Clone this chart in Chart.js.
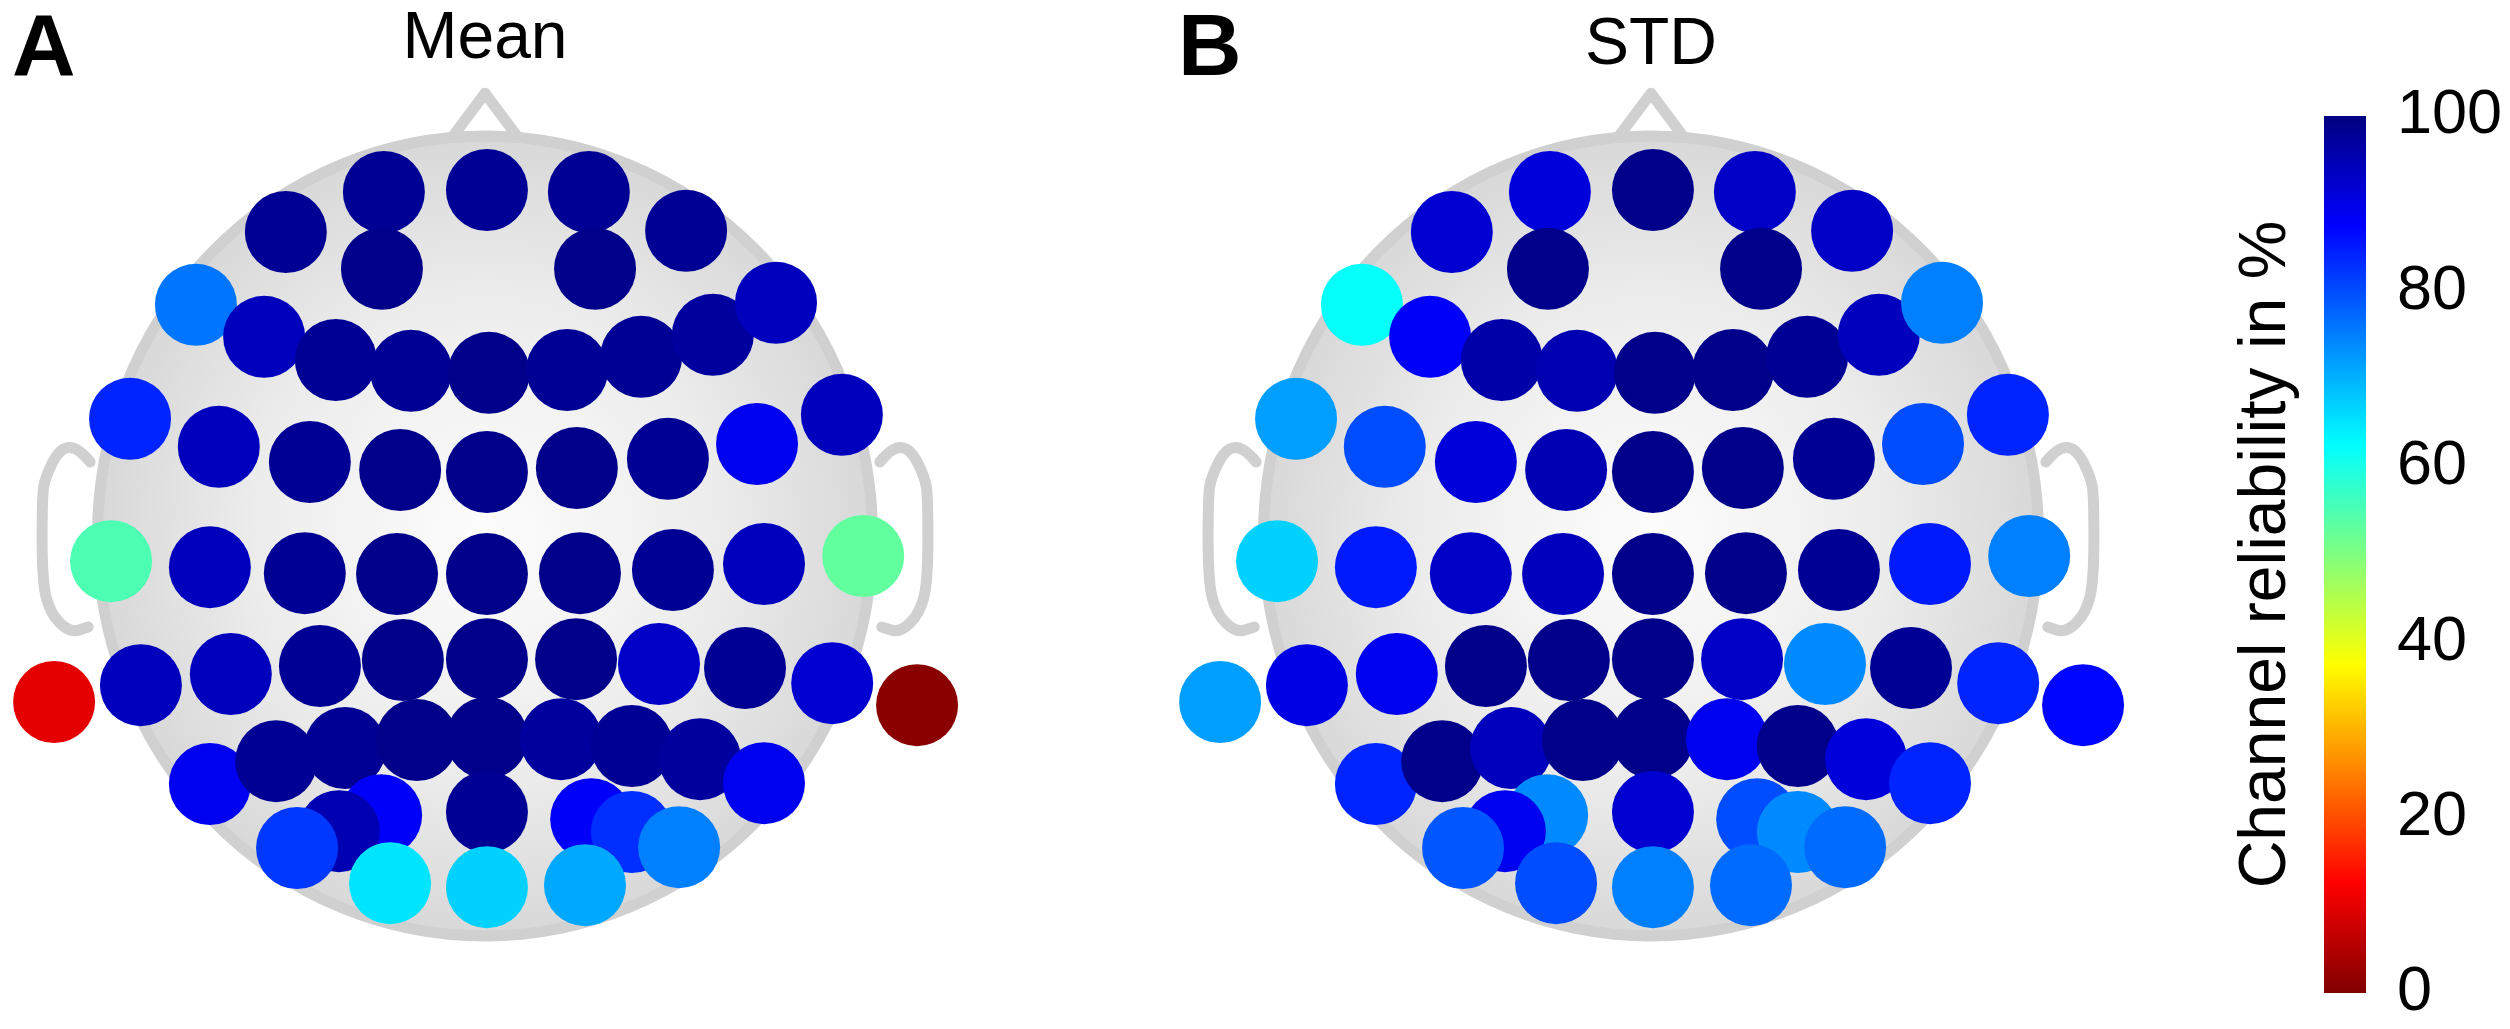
<!DOCTYPE html>
<html>
<head>
<meta charset="utf-8">
<title>Channel reliability</title>
<script src="https://cdn.jsdelivr.net/npm/chart.js@4.4.1/dist/chart.umd.min.js"></script>
<style>
  body { margin: 0; background: #fff; }
  #wrap { position: relative; width: 2510px; height: 1029px; background: #fff; overflow: hidden; }
  #wrap canvas { position: absolute; top: 0; }
</style>
</head>
<body>
<div id="wrap">
  <canvas id="meanChart" width="970" height="1029" style="left:0px"></canvas>
  <canvas id="stdChart" width="970" height="1029" style="left:1166px"></canvas>
  <canvas id="barChart" width="330" height="1029" style="left:2180px"></canvas>
</div>
<script>
// electrode positions in head units (head radius = 1), listed in drawing order
const chanX = [
  -0.261, 0.005, 0.268, -0.514, -0.266, 0.284, 0.519,
  -0.746, -0.570, -0.385, -0.191, 0.010, 0.212, 0.403, 0.588, 0.751,
  -0.916, -0.687, -0.452, -0.219, 0.005, 0.237, 0.472, 0.702, 0.921,
  -0.965, -0.710, -0.465, -0.227, 0.005, 0.245, 0.485, 0.720, 0.976,
  -1.112, -0.888, -0.656, -0.426, -0.212, 0.005, 0.235, 0.449, 0.671, 0.896, 1.115,
  -0.710, -0.539, -0.361, -0.176, 0.005, 0.196, 0.379, 0.555, 0.720,
  -0.268, -0.377, -0.485, 0.005, 0.274, 0.379, 0.501,
  -0.245, 0.005, 0.258
];
const chanY = [
  0.860, 0.865, 0.860, 0.760, 0.668, 0.668, 0.763,
  0.578, 0.498, 0.440, 0.413, 0.408, 0.415, 0.448, 0.503, 0.583,
  0.293, 0.223, 0.185, 0.165, 0.160, 0.170, 0.193, 0.230, 0.303,
  -0.063, -0.078, -0.093, -0.095, -0.095, -0.093, -0.085, -0.070, -0.050,
  -0.415, -0.373, -0.345, -0.325, -0.310, -0.308, -0.308, -0.320, -0.330, -0.368, -0.423,
  -0.620, -0.563, -0.530, -0.510, -0.505, -0.508, -0.525, -0.558, -0.618,
  -0.698, -0.738, -0.780, -0.690, -0.708, -0.740, -0.778,
  -0.868, -0.878, -0.873
];
// channel reliability in %
const meanVals = [
  98, 98, 98, 98, 99, 99, 98,
  76, 94, 98, 98, 99, 98, 98, 97, 94,
  84, 94, 98, 99, 99, 99, 98, 89, 94,
  55, 94, 98, 99, 99, 99, 98, 94, 53,
  10, 94, 94, 98, 99, 99, 99, 93, 98, 92, 1,
  89, 98, 98, 99, 99, 97, 98, 97, 89,
  88, 95, 82, 98, 88, 83, 75,
  65, 67, 71
];
const stdVals = [
  91, 99, 93, 92, 99, 99, 93,
  62, 88, 96, 95, 99, 99, 98, 94, 75,
  72, 80, 91, 95, 99, 99, 98, 80, 84,
  67, 85, 93, 94, 99, 99, 98, 85, 75,
  72, 90, 89, 99, 99, 99, 93, 74, 98, 84, 87,
  84, 99, 94, 99, 99, 89, 99, 91, 84,
  74, 89, 79, 92, 80, 74, 77,
  80, 75, 77
];
const panelTitles = ["Mean", "STD"];
const panelLetters = ["A", "B"];
const barRange = [0, 100];
const barTicks = [0, 20, 40, 60, 80, 100];
const barLabel = "Channel reliability in %";

const FONT = '"Liberation Sans", Arial, Helvetica, sans-serif';
Chart.defaults.font.family = FONT;
Chart.defaults.color = "#000";

// reversed jet: 100 -> dark blue, 0 -> dark red
const clamp = (v) => Math.max(0, Math.min(1, v));
function jet(val) {
  const t = 1 - val / 100;
  const r = clamp(1.5 - Math.abs(4 * t - 3));
  const g = clamp(1.5 - Math.abs(4 * t - 2));
  const b = clamp(1.5 - Math.abs(4 * t - 1));
  return `rgb(${Math.round(r * 255)},${Math.round(g * 255)},${Math.round(b * 255)})`;
}

// ear outline (right side, head units)
const earShape = [
  [1.019, 0.185], [1.05, 0.2225], [1.097, 0.22], [1.135, 0.1475], [1.143, 0.0975],
  [1.143, -0.11], [1.123, -0.1925], [1.071, -0.2425], [1.024, -0.2275]
];

const headPlugin = {
  id: "head",
  beforeDatasetsDraw(chart) {
    const { ctx } = chart;
    const sx = chart.scales.x, sy = chart.scales.y;
    const px = (u) => sx.getPixelForValue(u);
    const py = (v) => sy.getPixelForValue(v);
    const cx = px(0), cy = py(0);
    const rx = px(1) - cx, ry = cy - py(1);
    ctx.save();
    ctx.strokeStyle = "#d0d0d0";
    ctx.lineWidth = 11;
    ctx.lineCap = "round";
    ctx.lineJoin = "round";
    // nose
    ctx.beginPath();
    ctx.moveTo(px(-0.09), py(0.99));
    ctx.lineTo(px(0), py(1.107));
    ctx.lineTo(px(0.09), py(0.99));
    ctx.stroke();
    // ears
    [-1, 1].forEach((s) => {
      const pts = earShape.map(([u, v]) => [px(s * u), py(v)]);
      ctx.beginPath();
      ctx.moveTo(pts[0][0], pts[0][1]);
      for (let i = 1; i < pts.length - 1; i++) {
        const mx = (pts[i][0] + pts[i + 1][0]) / 2;
        const my = (pts[i][1] + pts[i + 1][1]) / 2;
        ctx.quadraticCurveTo(pts[i][0], pts[i][1], mx, my);
      }
      const last = pts[pts.length - 1];
      ctx.lineTo(last[0], last[1]);
      ctx.stroke();
    });
    // head
    ctx.save();
    ctx.translate(cx, cy);
    ctx.scale(rx / ry, 1);
    const grad = ctx.createRadialGradient(0, 0, 0, 0, 0, ry);
    grad.addColorStop(0, "#fdfdfd");
    grad.addColorStop(0.6, "#ececec");
    grad.addColorStop(1, "#d8d8d8");
    ctx.fillStyle = grad;
    ctx.beginPath();
    ctx.arc(0, 0, ry, 0, Math.PI * 2);
    ctx.fill();
    ctx.restore();
    ctx.beginPath();
    ctx.ellipse(cx, cy, rx, ry, 0, 0, Math.PI * 2);
    ctx.stroke();
    ctx.restore();
  },
  afterDraw(chart, args, opts) {
    const { ctx } = chart;
    ctx.save();
    ctx.fillStyle = "#000";
    ctx.font = "bold 88px " + FONT;
    ctx.textBaseline = "alphabetic";
    ctx.textAlign = "left";
    ctx.fillText(opts.letter, 12, 75);
    ctx.restore();
  }
};

// pixel layout of a head panel
const W = 970, H = 1029, CX = 485, CY = 536, RX = 387.5, RY = 400;
const TITLE_SIZE = 66, TITLE_BLOCK = TITLE_SIZE * 1.2 + 6;

function makeHead(id, vals, idx, padTop) {
  const colors = vals.map(jet);
  return new Chart(document.getElementById(id), {
    type: "scatter",
    data: {
      datasets: [{
        data: chanX.map((x, i) => ({ x: x, y: chanY[i] })),
        pointRadius: 41,
        pointHoverRadius: 41,
        pointBackgroundColor: colors,
        pointBorderColor: colors,
        pointBorderWidth: 0,
        clip: false
      }]
    },
    plugins: [headPlugin],
    options: {
      responsive: false,
      animation: false,
      events: [],
      layout: { padding: 0, autoPadding: false },
      scales: {
        x: { display: false, min: -CX / RX, max: (W - CX) / RX },
        y: { display: false, min: -(H - CY) / RY, max: (CY - TITLE_BLOCK) / RY }
      },
      plugins: {
        legend: { display: false },
        tooltip: { enabled: false },
        title: {
          display: true,
          text: panelTitles[idx],
          color: "#000",
          font: { size: TITLE_SIZE, weight: "normal" },
          padding: { top: padTop, bottom: 6 - padTop }
        },
        head: { letter: panelLetters[idx] }
      }
    }
  });
}

makeHead("meanChart", meanVals, 0, 0);
makeHead("stdChart", stdVals, 1, 6);

function jetGradient(chart) {
  const area = chart.chartArea;
  if (!area) return null;
  const g = chart.ctx.createLinearGradient(0, area.bottom, 0, area.top);
  [0, 12.5, 37.5, 62.5, 87.5, 100].forEach((v) => g.addColorStop(v / 100, jet(v)));
  return g;
}

// fixed axis box: width set, no extra label padding
const fixAxis = (s) => {
  s.width = 144;
  s.paddingTop = 0;
  s.paddingBottom = 0;
};

new Chart(document.getElementById("barChart"), {
  type: "bar",
  data: {
    labels: [""],
    datasets: [{
      data: [barRange],
      backgroundColor: (c) => jetGradient(c.chart),
      borderWidth: 0,
      barPercentage: 1,
      categoryPercentage: 1
    }]
  },
  options: {
    responsive: false,
    animation: false,
    events: [],
    layout: { padding: { top: 116, bottom: 36, left: 0, right: 0 } },
    plugins: { legend: { display: false }, tooltip: { enabled: false } },
    scales: {
      x: { display: false },
      yTitle: {
        position: "left",
        min: 0, max: 100,
        grid: { display: false, drawTicks: false },
        border: { display: false },
        ticks: { display: false },
        title: {
          display: true,
          text: barLabel,
          color: "#000",
          font: { size: 66 },
          padding: { top: 47, bottom: 0 }
        },
        afterFit: fixAxis
      },
      y: {
        position: "right",
        min: barRange[0], max: barRange[1],
        grid: { display: false, drawTicks: false },
        border: { display: false },
        ticks: { color: "#000", font: { size: 63 }, padding: 31 },
        afterBuildTicks(s) { s.ticks = barTicks.map((v) => ({ value: v })); },
        afterFit: fixAxis
      }
    }
  }
});
</script>
</body>
</html>
